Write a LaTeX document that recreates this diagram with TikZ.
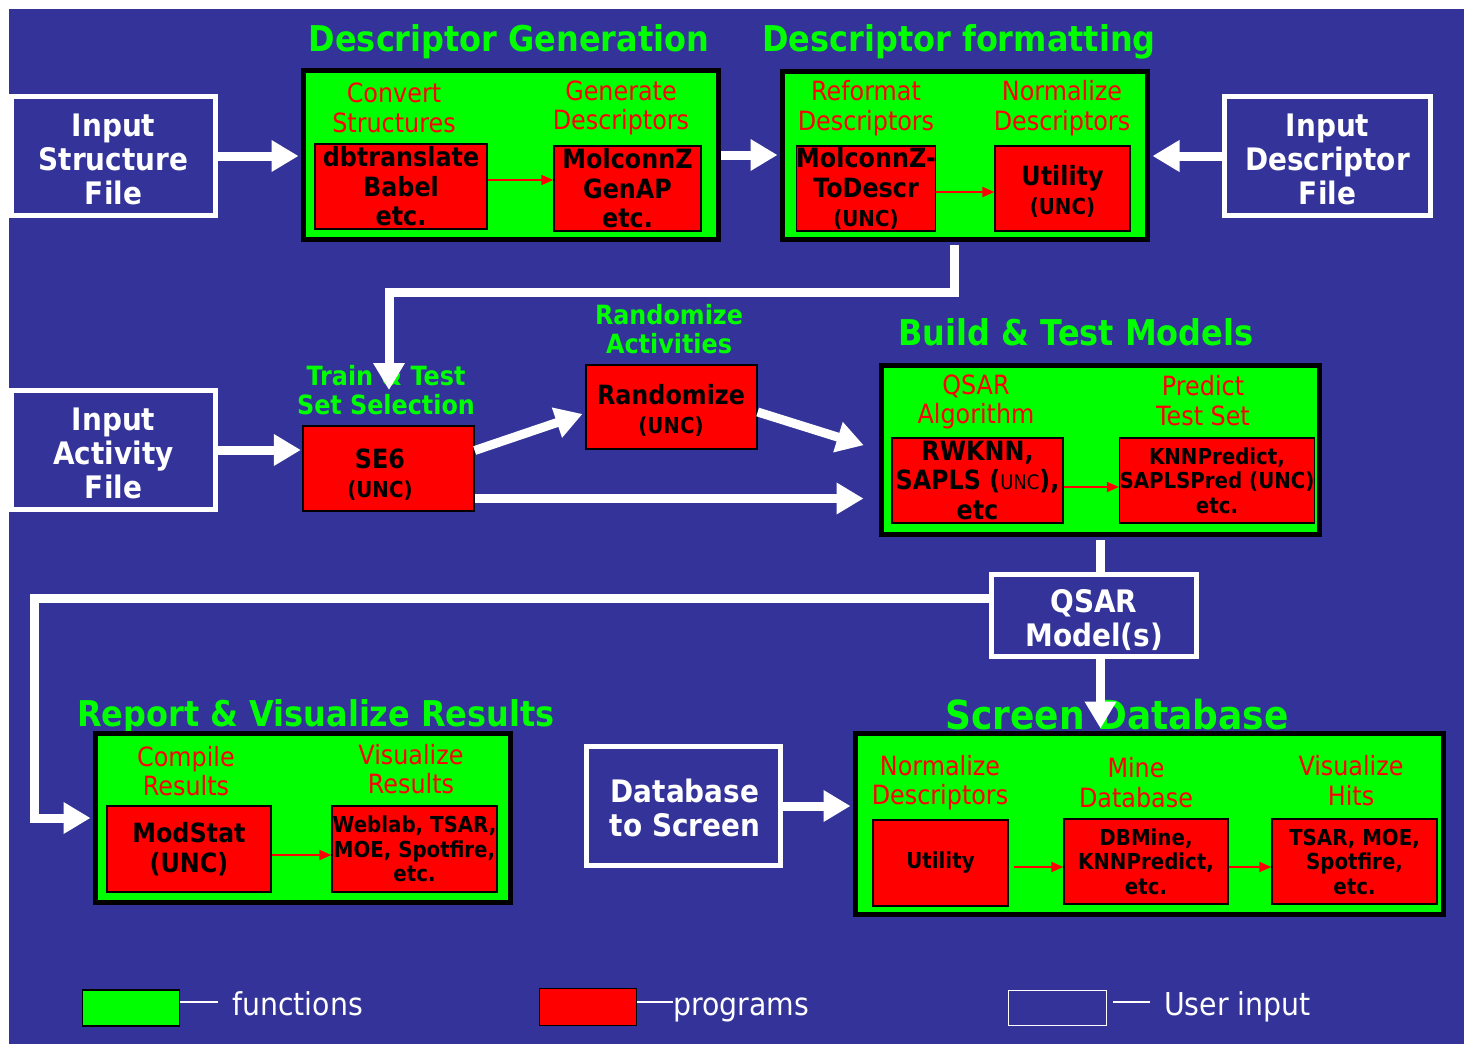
\documentclass[tikz,border=0pt]{standalone}
\usepackage{fontspec}
\setmainfont{DejaVu Sans}[FakeStretch=0.9]
\usetikzlibrary{arrows.meta}
\definecolor{bg}{HTML}{333399}
\definecolor{fg}{HTML}{00FF00}
\definecolor{rd}{HTML}{FF0000}
\begin{document}
\begin{tikzpicture}[x=1pt,y=-1pt,
  func/.style={draw=black, fill=fg, line width=5pt, inner sep=0pt, rectangle},
  prog/.style={draw=black, fill=rd, line width=1.3pt, inner sep=0pt, align=center, text=black,
    font=\bfseries\fontsize{26.5}{29.5}\selectfont},
  progs/.style={prog, font=\bfseries\fontsize{22}{24.5}\selectfont},
  progtxt/.style={align=center, text=black, inner sep=0pt, font=\bfseries\fontsize{26.5}{29.5}\selectfont},
  user/.style={draw=white, line width=5pt, inner sep=0pt, align=center, text=white,
    font=\bfseries\fontsize{31}{34}\selectfont},
  usertxt/.style={align=center, text=white, inner sep=0pt, font=\bfseries\fontsize{31}{34}\selectfont},
  ttl/.style={text=fg, font=\bfseries\fontsize{35.5}{40}\selectfont, anchor=base, inner sep=0pt},
  glab/.style={text=fg, align=center, font=\bfseries\fontsize{26.5}{29}\selectfont, inner sep=0pt},
  rlab/.style={text=rd, align=center, font=\fontsize{26.5}{29.5}\selectfont, inner sep=0pt},
  legtxt/.style={text=white, font=\fontsize{31.5}{35}\selectfont, inner sep=0pt, anchor=base west},
  bigarrow/.style={draw=white, line width=9pt, -{Triangle[width=30pt,length=27pt]}},
  smallarrow/.style={draw=rd, line width=2pt, -{Triangle[width=10pt,length=12pt]}},
  legline/.style={draw=white, line width=2pt}]
\useasboundingbox (0,0) rectangle (1464,1044);
\fill[white] (0,0) rectangle (1464,1044);
\fill[bg] (9,9) rectangle (1464,1044);

% titles
\node[ttl] (tdg) at (509,51) {Descriptor Generation};
\node[ttl] (tdf) at (959,51) {Descriptor formatting};
\node[ttl] (tbtm) at (1076,345) {Build \& Test Models};
\node[ttl] (trvr) at (316,726) {Report \& Visualize Results};
\node[ttl, font=\bfseries\fontsize{40}{44}\selectfont] (tsd) at (1117,729) {Screen Database};

% user input boxes
\node[user, minimum width=204pt, minimum height=119pt] (in1) at (113.5,156) {};
\node[usertxt] (in1t) at (113.5,159) {Input\\Structure\\File};
\node[user, minimum width=206pt, minimum height=119pt] (in2) at (1327.5,156) {};
\node[usertxt] (in2t) at (1327.5,159) {Input\\Descriptor\\File};
\node[user, minimum width=204pt, minimum height=119pt] (in3) at (113.5,450) {};
\node[usertxt] (in3t) at (113.5,453) {Input\\Activity\\File};
\node[user, minimum width=205pt, minimum height=82pt] (qsar) at (1094,615.5) {};
\node[usertxt] (qsart) at (1094,620) {QSAR\\Model(s)};
\node[user, minimum width=194pt, minimum height=119pt] (dbs) at (683.5,806) {};
\node[usertxt] (dbst) at (685,808) {Database\\to Screen};

% function boxes
\node[func, minimum width=415pt, minimum height=169pt] (dg) at (511,155) {};
\node[func, minimum width=365pt, minimum height=168pt] (df) at (965,155.5) {};
\node[func, minimum width=438pt, minimum height=169pt] (btm) at (1100.5,450) {};
\node[func, minimum width=415pt, minimum height=169pt] (rvr) at (303,818) {};
\node[func, minimum width=588pt, minimum height=181pt] (sd) at (1149.5,824) {};

% function labels
\node[rlab] (l1) at (394,108) {Convert\\Structures};
\node[rlab] (l2) at (621,108) {Generate\\Descriptors};
\node[rlab] (l3) at (866,108) {Reformat\\Descriptors};
\node[rlab] (l4) at (1062,108) {Normalize\\Descriptors};
\node[rlab] (l5) at (976,402) {QSAR\\Algorithm};
\node[rlab] (l6) at (1203,400.5) {Predict\\Test Set};
\node[rlab] (l7) at (186,771) {Compile\\Results};
\node[rlab] (l8) at (411,769) {Visualize\\Results};
\node[rlab] (l9) at (940,782.5) {Normalize\\Descriptors};
\node[rlab] (l10) at (1136,782.5) {Mine\\Database};
\node[rlab] (l11) at (1351,780.5) {Visualize\\Hits};

\node[glab] (gtts) at (386,390.5) {Train \& Test\\Set Selection};
\node[glab] (grnd) at (669,329) {Randomize\\Activities};

% programs
\node[prog, minimum width=172pt, minimum height=85pt] (p1) at (401,186.5) {dbtranslate\\Babel\\etc.};
\node[prog, minimum width=147pt, minimum height=85pt] (p2) at (627.5,188.5) {MolconnZ\\GenAP\\etc.};
\node[prog, minimum width=136pt, minimum height=85pt] (p3) at (866,188.5) {MolconnZ-\\ToDescr\\{\fontsize{22}{27}\selectfont (UNC)}};
\node[prog, minimum width=135pt, minimum height=85pt] (p4) at (1062.5,188.5) {};
\node[progtxt] (p4t) at (1062.5,191.5) {Utility\\{\fontsize{22}{27}\selectfont (UNC)}};
\node[prog, minimum width=171pt, minimum height=85pt] (se6) at (388.5,468.5) {};
\node[progtxt] (se6t) at (380,474.5) {SE6\\{\fontsize{22}{27}\selectfont (UNC)}};
\node[prog, minimum width=171pt, minimum height=84pt] (rnd) at (671.5,407) {};
\node[progtxt] (rndt) at (671,410.5) {Randomize\\{\fontsize{22}{27}\selectfont (UNC)}};
\node[prog, minimum width=171pt, minimum height=85pt] (p5) at (977.5,480.5) {RWKNN,\\SAPLS ({\mdseries\fontsize{20}{24}\selectfont UNC}),\\etc};
\node[progs, minimum width=184pt, minimum height=85pt] (p6) at (1217,480.5) {KNNPredict,\\SAPLSPred (UNC)\\etc.};
\node[prog, minimum width=164pt, minimum height=86pt] (p7) at (189,849) {ModStat\\(UNC)};
\node[progs, minimum width=165pt, minimum height=86pt] (p8) at (414.5,849) {Weblab, TSAR,\\MOE, Spotfire,\\etc.};
\node[progs, minimum width=135pt, minimum height=86pt] (p9) at (940.5,863) {Utility};
\node[progs, minimum width=164pt, minimum height=85pt] (p10) at (1146,861.5) {DBMine,\\KNNPredict,\\etc.};
\node[progs, minimum width=165pt, minimum height=85pt] (p11) at (1354.5,861.5) {TSAR, MOE,\\Spotfire,\\etc.};

% red arrows between programs
\draw[smallarrow] ([yshift=6.5pt]p1.east) -- ([yshift=6.5pt]p1.east -| p2.west);
\draw[smallarrow] ([yshift=-3.5pt]p3.east) -- ([yshift=-3.5pt]p3.east -| p4.west);
\draw[smallarrow] ([yshift=-6.5pt]p5.east) -- ([yshift=-6.5pt]p5.east -| p6.west);
\draw[smallarrow] ([yshift=-6pt]p7.east) -- ([yshift=-6pt]p7.east -| p8.west);
\draw[smallarrow, shorten <=5pt] ([yshift=-4pt]p9.east) -- ([yshift=-4pt]p9.east -| p10.west);
\draw[smallarrow] ([yshift=-5.5pt]p10.east) -- ([yshift=-5.5pt]p10.east -| p11.west);

% white flow arrows
\coordinate (tts) at (389,390);
\coordinate (c1) at (34,818);
\draw[bigarrow, shorten >=2.5pt] (in1.east) -- (in1.east -| dg.west);
\draw[bigarrow, shorten >=2.5pt] (dg.east) -- (dg.east -| df.west);
\draw[bigarrow, shorten >=2.5pt] (in2.west) -- (in2.west -| df.east);
\draw[bigarrow, shorten <=2.5pt] ([xshift=-11pt]df.south) -- ++(0,50.5) -| (tts);
\draw[bigarrow, shorten >=1.5pt] (in3.east) -- (in3.east -| se6.west);
\draw[bigarrow, shorten >=3pt] ([yshift=18pt]se6.east) -- ([yshift=-6pt]rnd.west);
\draw[bigarrow, shorten >=16pt] ([yshift=-5pt]rnd.east) -- (btm.west);
\draw[bigarrow, shorten >=15.5pt] ([yshift=-30pt]se6.east) -- ([yshift=-30pt]se6.east -| btm.west);
\draw[draw=white, line width=9pt, shorten <=2.5pt] (btm.south) -- (btm.south |- qsar.north);
\draw[bigarrow, shorten >=2.5pt] ([yshift=17.5pt]qsar.west) -| (c1) -- (rvr.west);
\draw[bigarrow, shorten >=2.5pt] (btm.south |- qsar.south) -- (btm.south |- sd.north);
\draw[bigarrow, shorten >=2.5pt] (dbs.east) -- (dbs.east -| sd.west);

% legend
\node[func, line width=1.5pt, minimum width=97pt, minimum height=36pt] (lgf) at (131,1008) {};
\node[prog, line width=1.5pt, minimum width=97pt, minimum height=37pt] (lgp) at (588,1007) {};
\node[draw=white, line width=1.5pt, minimum width=98pt, minimum height=35pt, inner sep=0pt] (lgu) at (1057.5,1008) {};
\node[legtxt] (ltf) at (232,1015) {functions};
\node[legtxt] (ltp) at (673,1015) {programs};
\node[legtxt] (ltu) at (1164,1015) {User input};
\draw[legline, shorten >=14pt] ([yshift=6pt]lgf.east) -- ([yshift=6pt]lgf.east -| ltf.west);
\draw[legline] ([yshift=5pt]lgp.east) -- ([yshift=5pt]lgp.east -| ltp.west);
\draw[legline, shorten <=6pt, shorten >=14pt] ([yshift=6pt]lgu.east) -- ([yshift=6pt]lgu.east -| ltu.west);
\end{tikzpicture}
\end{document}
